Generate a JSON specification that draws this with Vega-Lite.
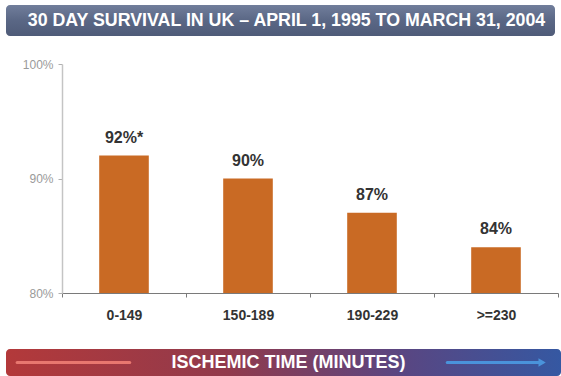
{
  "$schema": "https://vega.github.io/schema/vega-lite/v6.json",
  "background": "white",
  "padding": {"left": 6, "top": 5, "right": 0, "bottom": 0},
  "spacing": 22,
  "config": {
    "view": {"stroke": null},
    "font": "Liberation Sans"
  },
  "vconcat": [
    {
      "width": 549,
      "height": 31,
      "view": {
        "fill": {
          "gradient": "linear",
          "x1": 0, "y1": 0, "x2": 0, "y2": 1,
          "stops": [
            {"offset": 0, "color": "#717e9b"},
            {"offset": 0.5, "color": "#5a6785"},
            {"offset": 1, "color": "#4f5b78"}
          ]
        },
        "stroke": null,
        "cornerRadius": 4
      },
      "data": {"values": [{"heading": "30 DAY SURVIVAL IN UK – APRIL 1, 1995 TO MARCH 31, 2004"}]},
      "mark": {"type": "text", "color": "white", "fontSize": 17.8, "fontWeight": "bold", "dx": 6},
      "encoding": {"text": {"field": "heading"}}
    },
    {
      "width": 552,
      "height": 229,
      "data": {
        "values": [
          {"interval": "0-149", "survival": 92, "label": "92%*"},
          {"interval": "150-189", "survival": 90, "label": "90%"},
          {"interval": "190-229", "survival": 87, "label": "87%"},
          {"interval": ">=230", "survival": 84, "label": "84%"}
        ]
      },
      "encoding": {
        "x": {
          "field": "interval",
          "type": "nominal",
          "sort": null,
          "scale": {"range": [56, 552], "paddingInner": 0, "paddingOuter": 0},
          "axis": {
            "title": null,
            "labelAngle": 0,
            "domainColor": "#7a7a7a",
            "tickColor": "#7a7a7a",
            "tickSize": 4,
            "tickBand": "extent",
            "labelColor": "#333333",
            "labelFontSize": 14,
            "labelFontWeight": "bold",
            "labelPadding": 11,
            "minExtent": 34
          }
        },
        "y": {
          "field": "survival",
          "type": "quantitative",
          "scale": {"domain": [80, 100], "zero": false, "nice": false},
          "axis": {
            "title": null,
            "offset": -56,
            "values": [80, 90, 100],
            "labelExpr": "datum.value + '%'",
            "grid": false,
            "domainColor": "#c4c4c4",
            "domainWidth": 1.5,
            "tickColor": "#b0b0b0",
            "tickSize": 4,
            "labelColor": "#9a9a9a",
            "labelFontSize": 12,
            "labelPadding": 5
          }
        }
      },
      "layer": [
        {
          "mark": {"type": "bar", "color": "#c96a24", "width": {"band": 0.4}},
          "encoding": {"y2": {"datum": 80}}
        },
        {
          "mark": {"type": "text", "baseline": "bottom", "dy": -10, "fontSize": 16, "fontWeight": "bold", "color": "#333333"},
          "encoding": {"text": {"field": "label"}}
        }
      ]
    },
    {
      "width": 555,
      "height": 27,
      "view": {
        "fill": {
          "gradient": "linear",
          "x1": 0, "y1": 0, "x2": 1, "y2": 0,
          "stops": [
            {"offset": 0, "color": "#b3393a"},
            {"offset": 0.4, "color": "#913a4c"},
            {"offset": 0.7, "color": "#5b4580"},
            {"offset": 1, "color": "#3558a2"}
          ]
        },
        "stroke": null,
        "cornerRadius": 4
      },
      "data": {
        "values": [
          {"arrow": "shorter", "start": 2, "end": 22.3},
          {"arrow": "longer", "start": 79.5, "end": 96.6}
        ]
      },
      "encoding": {
        "x": {"field": "start", "type": "quantitative", "scale": {"domain": [0, 100]}, "axis": null},
        "x2": {"field": "end"}
      },
      "layer": [
        {
          "transform": [{"filter": "datum.arrow === 'shorter'"}],
          "mark": {"type": "rule", "color": "#e8776f", "strokeWidth": 3, "strokeCap": "round"}
        },
        {
          "transform": [{"filter": "datum.arrow === 'longer'"}],
          "mark": {"type": "rule", "color": "#4a93db", "strokeWidth": 3, "strokeCap": "round"}
        },
        {
          "transform": [{"filter": "datum.arrow === 'longer'"}],
          "mark": {"type": "point", "shape": "triangle-right", "filled": true, "color": "#4a93db", "size": 70, "opacity": 1},
          "encoding": {"x": {"field": "end", "type": "quantitative"}, "x2": null}
        },
        {
          "data": {"values": [{"caption": "ISCHEMIC TIME (MINUTES)"}]},
          "mark": {"type": "text", "color": "white", "fontSize": 18, "fontWeight": "bold", "dx": 5},
          "encoding": {"text": {"field": "caption"}, "x": null, "x2": null}
        }
      ]
    }
  ]
}
